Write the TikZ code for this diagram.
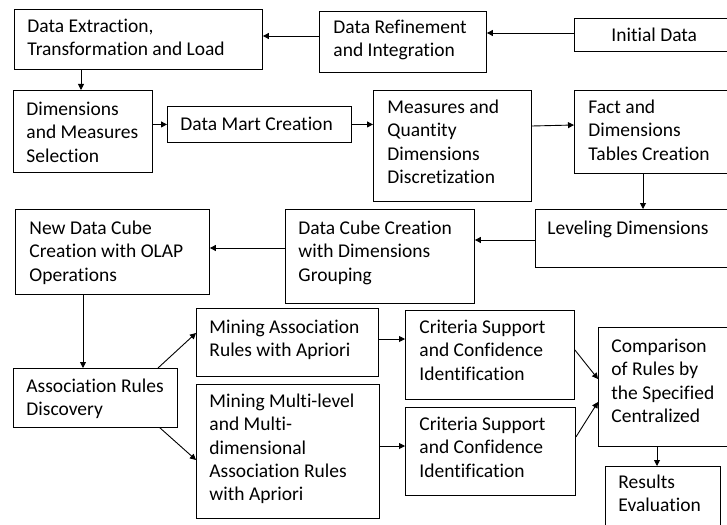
\documentclass[tikz,border=0pt]{standalone}
\usepackage{fontspec}
\setmainfont{Carlito}[Ligatures=NoCommon]
\usetikzlibrary{arrows.meta}
\newcommand\bx[8]{%
  \node[flowbox] (#1) at (#2,#3) {\parbox[c][\dimexpr #5pt-#3pt\relax][t]{\dimexpr #4pt-#2pt\relax}{%
    \fontsize{19.5}{23.3}\selectfont\leftskip=#7pt\rightskip=0pt plus 1fil\parindent=0pt
    \vspace*{\dimexpr #6pt-16pt\relax}\noindent\rule{0pt}{16pt}#8}};}
\begin{document}
\begin{tikzpicture}[x=1pt,y=-1pt,
  flowbox/.style={draw, line width=0.9pt, inner sep=0pt, anchor=north west},
  arr/.style={-{Triangle[length=6pt,width=6pt]}, line width=0.9pt}]
\useasboundingbox (0,0) rectangle (727,524);
\clip (0,0) rectangle (727,524);
\fill[white] (0,0) rectangle (727,524);
\bx{A}{14}{9}{262}{69}{23}{13}{Data Extraction,\\Transformation and Load}
\bx{B}{319}{11}{486}{72}{22}{14}{Data Refinement\\and Integration}
\bx{C}{574}{18}{732}{51}{23}{37}{Initial Data}
\bx{D}{13}{90}{152}{172}{25}{13}{Dimensions\\and Measures\\Selection}
\bx{E}{167}{106}{351}{142}{24}{13}{Data Mart Creation}
\bx{F}{373}{90}{531}{201}{23}{14}{Measures and\\Quantity\\Dimensions\\Discretization}
\bx{G}{574}{90}{732}{173}{23}{14}{Fact and\\Dimensions\\Tables Creation}
\bx{H}{535}{209}{732}{267}{25}{12}{Leveling Dimensions}
\bx{I}{285}{209}{474}{303}{25}{13}{Data Cube Creation\\with Dimensions\\Grouping}
\bx{J}{15}{209}{209}{294}{25}{14}{New Data Cube\\Creation with OLAP\\Operations}
\bx{K}{13}{368}{177}{427}{24}{13}{Association Rules\\Discovery}
\bx{L}{196}{308}{378}{376}{25}{13}{Mining Association\\Rules with Apriori}
\bx{M}{196}{384}{379}{518}{23}{13}{Mining Multi-level\\and Multi-\\dimensional\\Association Rules\\with Apriori}
\bx{N}{405}{310}{574}{399}{23}{14}{Criteria Support\\and Confidence\\Identification}
\bx{O}{405}{407}{575}{495}{23}{14}{Criteria Support\\and Confidence\\Identification}
\bx{P}{598}{327}{732}{446}{25}{13}{Comparison\\of Rules by\\the Specified\\Centralized}
\bx{Q}{605}{466}{720}{532}{22}{13}{Results\\Evaluation}
\draw[arr] (C.west |- 0,33) -- (B.east |- 0,33);
\draw[arr] (B.west |- 0,36) -- (A.east |- 0,36);
\draw[arr] (A.south -| 81,0) -- (D.north -| 81,0);
\draw[arr] (D.east |- E.west) -- (E.west);
\draw[arr] (E.east) -- (F.west |- E.east);
\draw[arr] (F.east |- 0,126) -- (G.west |- 0,125);
\draw[arr] (G.south -| 643,0) -- (H.north -| 643,0);
\draw[arr] (H.west |- 0,240) -- (I.east |- 0,240);
\draw[arr] (I.west |- 0,248) -- (J.east |- 0,248);
\draw[arr] (J.south -| 83,0) -- (K.north -| 83,0);
\draw[arr] (K.north -| 158,0) -- (L.west |- 0,333);
\draw[arr] (K.south -| 160,0) -- (M.west |- 0,460);
\draw[arr] (L.east |- 0,339) -- (N.west |- 0,339);
\draw[arr] (M.east |- 0,446) -- (O.west |- 0,446);
\draw[arr] (N.east |- 0,350) -- (P.west |- 0,379);
\draw[arr] (O.east |- 0,437) -- (P.west |- 0,402);
\draw[arr] (P.south -| 657,0) -- (Q.north -| 657,0);
\end{tikzpicture}
\end{document}
